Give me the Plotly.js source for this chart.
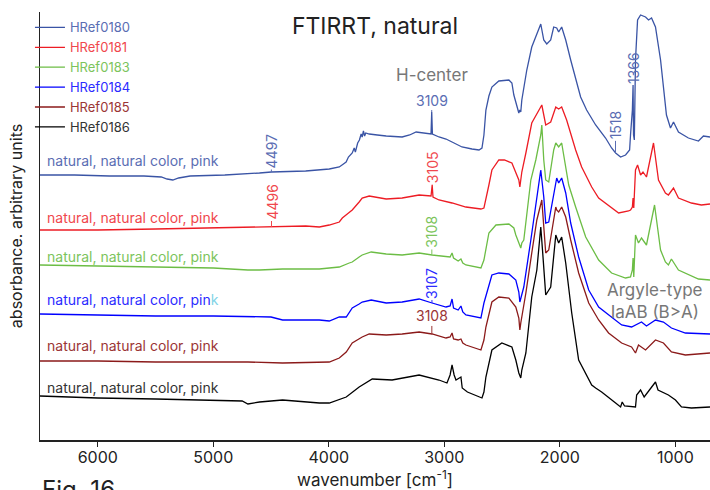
<!DOCTYPE html>
<html>
<head>
<meta charset="utf-8">
<script src="https://cdn.plot.ly/plotly-3.0.1.min.js"></script>
<style>html,body{margin:0;padding:0;background:#fff;}#chart{width:710px;height:490px;}</style>
</head>
<body>
<div id="chart"></div>
<script>
// ---- data (wavenumber in cm-1, absorbance in arbitrary units, stacked) ----
const seriesNames = ["HRef0180","HRef0181","HRef0183","HRef0184","HRef0185","HRef0186"];
const sampleLabel = "natural, natural color, pink";

const wn180 = [6500,6200,5900,5600,5450,5400,5350,5300,5200,4900,4600,4497,4200,4082,3996,3909,3870,3850,3830,3797,3780,3770,3750,3735,3720,3711,3700,3690,3680,3650,3580,3503,3365,3300,3244,3158,3115,3109,3103,3046,2985,2933,2847,2760,2700,2674,2657,2640,2614,2588,2528,2441,2415,2398,2372,2355,2346,2338,2329,2286,2243,2199,2165,2139,2113,2079,2053,2027,2010,1984,1949,1906,1854,1820,1768,1690,1604,1552,1517,1474,1431,1396,1388,1372,1366,1362,1355,1345,1327,1301,1258,1232,1206,1172,1128,1103,1077,1042,1016,973,887,800,757,700];
const ab180 = [265,265,264,264,263,261,260,262,264,265,267,268,269,270,271,273,276,278,283,287,292,288,297,300,306,303,309,304,307,306,305,304,303,305,308,307,306,328,306,303,301,298,293,291,290,292,305,330,344,353,359,360,357,345,335,327,330,328,340,370,393,405,416,400,396,400,413,412,408,413,400,380,358,343,330,315,302,292,287,283,285,290,305,330,355,305,300,380,420,425,423,420,422,413,380,350,325,312,318,308,302,299,304,303];

const wn181 = [6500,6000,5500,5000,4496,4200,4082,3996,3909,3883,3840,3797,3737,3711,3650,3503,3365,3218,3115,3105,3098,3046,2933,2900,2813,2683,2657,2614,2588,2528,2480,2415,2381,2355,2346,2338,2329,2294,2243,2156,2122,2079,2035,2010,1984,1941,1863,1811,1724,1664,1604,1552,1491,1405,1388,1372,1366,1360,1345,1327,1301,1280,1250,1189,1146,1086,1060,1016,973,861,775,700];
const ab181 = [210,210,211,212,213,214,213,215,218,222,226,230,238,242,244,241,242,245,244,255,243,240,237,236,233,231,232,255,270,280,280,277,268,260,253,262,268,287,317,335,315,318,333,331,333,320,290,273,253,242,237,232,227,229,230,233,242,232,270,275,265,268,263,297,260,247,245,252,242,237,235,236];

const wn183 = [6500,6000,5500,5000,4700,4600,4400,4082,3996,3909,3823,3797,3737,3711,3633,3503,3365,3218,3106,2985,2950,2933,2920,2880,2856,2840,2813,2683,2657,2614,2553,2441,2398,2381,2355,2338,2329,2312,2251,2208,2165,2156,2139,2122,2096,2053,2035,2010,1984,1949,1923,1863,1776,1664,1552,1431,1388,1372,1366,1360,1345,1319,1293,1250,1180,1128,1086,1060,1034,973,800,700];
const ab183 = [175,174,173,172,170,170,171,171,172,173,177,178,183,185,188,186,185,187,185,183,183,187,182,179,181,177,175,172,180,207,215,216,212,205,196,192,197,200,260,280,305,315,280,260,258,290,297,293,297,275,255,233,203,180,167,162,163,170,182,163,205,197,202,195,235,190,178,175,181,170,161,160];

const wn184 = [6500,6000,5500,5000,4500,4400,4300,4082,3996,3909,3849,3797,3737,3711,3633,3503,3365,3218,3106,2985,2950,2933,2920,2880,2856,2840,2813,2683,2657,2588,2528,2441,2381,2355,2346,2338,2312,2251,2208,2165,2139,2122,2096,2035,2027,2010,1984,1949,1906,1837,1750,1664,1578,1465,1379,1293,1250,1172,1103,1034,913,700];
const ab184 = [126,125,124,124,123,120,120,120,119,123,123,132,136,138,140,137,138,141,137,133,134,141,132,130,134,128,125,122,137,165,167,166,160,148,138,142,153,200,233,270,243,217,218,255,262,257,262,247,217,183,150,133,125,115,113,118,114,120,118,112,107,106];

const wn185 = [6500,6000,5500,5000,4700,4400,4082,3996,3909,3849,3797,3711,3650,3503,3365,3218,3106,2985,2950,2933,2920,2880,2856,2840,2813,2683,2657,2640,2588,2528,2441,2381,2355,2346,2338,2294,2243,2199,2156,2139,2122,2096,2035,2027,2010,1984,1949,1906,1837,1750,1664,1578,1465,1379,1345,1319,1258,1172,1128,1103,1034,913,700];
const ab185 = [79,79,78,78,78,77,78,78,82,88,97,103,106,105,106,108,106,102,103,107,101,100,101,97,95,90,100,113,138,143,142,133,122,110,117,147,187,220,240,210,187,190,233,230,228,233,223,200,167,137,120,107,97,93,87,95,90,100,98,97,88,85,87];

const wn186 = [6500,6000,5500,5000,4750,4700,4600,4400,4082,3996,3849,3737,3624,3452,3218,3046,2977,2950,2933,2915,2899,2870,2856,2845,2800,2674,2657,2640,2588,2502,2415,2381,2355,2338,2329,2294,2243,2199,2165,2150,2122,2079,2035,2010,1984,1949,1897,1837,1776,1750,1724,1690,1638,1517,1474,1460,1440,1345,1335,1301,1270,1172,1150,1060,999,947,861,700];
const ab186 = [44,42,41,40,39,36,38,40,37,37,43,53,61,60,65,60,57,65,75,65,60,62,63,52,48,42,48,63,90,97,93,80,67,62,70,87,143,170,213,190,145,153,205,197,203,177,127,80,67,61,55,52,48,37,33,38,34,33,45,50,43,58,50,45,40,33,32,33];

// peak labels
const peakSeries = [0,0,0,0,1,1,2,3,4];
const peakWn     = [4497,3109,1518,1366,4496,3105,3108,3107,3108];
const peakText   = ["4497","3109","1518","1366","4496","3105","3108","3107","3108"];

// ---- style ----
const lineColors = ["#3a54a5","#ed1c24","#6cbd45","#0000ff","#8b1a1a","#000000"];
const textColors = ["#5a6db3","#f0474d","#7cc45c","#2b2bff","#9b3535","#333333"];
const FONT = "Inter, Lato, sans-serif";

const WN = [wn180,wn181,wn183,wn184,wn185,wn186];
const AB = [ab180,ab181,ab183,ab184,ab185,ab186];

function valAt(wn, ab, w){
  for(let i=0;i<wn.length-1;i++){
    if((wn[i]-w)*(wn[i+1]-w)<=0){
      const t=(w-wn[i])/(wn[i+1]-wn[i]);
      return ab[i]+t*(ab[i+1]-ab[i]);
    }
  }
  return ab[ab.length-1];
}

const traces = seriesNames.map((n,i)=>({
  x: WN[i], y: AB[i], type:'scatter', mode:'lines',
  name: '<span style="color:'+textColors[i]+'">'+n+'</span>',
  line:{color:lineColors[i], width:1.3}
}));

const annotations = [];
// sample labels above each trace
const labelLift = [15,13,9,15,16,9];
seriesNames.forEach((n,i)=>{
  let txt = sampleLabel;
  if(i===3) txt = '<span style="color:#2b2bff">natural, natural color, pin</span><span style="color:#7fd3e6">k</span>';
  annotations.push({x:6455, y:AB[i][0]+labelLift[i], xref:'x', yref:'y', text:txt, showarrow:false,
    xanchor:'left', yanchor:'middle', font:{family:FONT, size:14, color:textColors[i]}});
});
// peak labels
const peakAngle = [-90,0,-90,-90,-90,-90,-90,-90,0];
const peakAy    = [-21,-12,-28,-17,-25,-18,-23,-20,-18];
peakWn.forEach((w,k)=>{
  const s = peakSeries[k];
  annotations.push({x:w, y:valAt(WN[s],AB[s],w), xref:'x', yref:'y', text:peakText[k],
    showarrow:true, arrowhead:0, arrowwidth:1, arrowcolor:textColors[s], ax:0, ay:peakAy[k],
    textangle:peakAngle[k], font:{family:FONT, size:14, color:textColors[s]}});
});
// text notes
annotations.push({x:0.585, y:(440-75)/428, xref:'paper', yref:'paper', xanchor:'center', yanchor:'middle',
  text:'H-center', showarrow:false, font:{family:FONT, size:17, color:'#777'}});
annotations.push({x:0.918, y:(440-301)/428, xref:'paper', yref:'paper', xanchor:'center', yanchor:'middle',
  text:'Argyle-type<br>IaAB (B&gt;A)', showarrow:false, align:'center', font:{family:FONT, size:17, color:'#777'}});
annotations.push({x:0, y:-0.077, xref:'paper', yref:'paper', text:'Fig. 16', showarrow:false,
  xanchor:'left', yanchor:'top', font:{family:FONT, size:24, color:'#222'}});

const layout = {
  width:710, height:490,
  margin:{l:40, r:0, t:12, b:50},
  paper_bgcolor:'#fff', plot_bgcolor:'#fff',
  font:{family:FONT, color:'#222'},
  title:{text:'FTIRRT, natural', x:0.5, xref:'paper', y:1-26/490, yref:'container', yanchor:'middle',
    font:{family:FONT, size:23, color:'#222'}},
  showlegend:true,
  legend:{x:-0.015, y:0.999, xanchor:'left', yanchor:'top', bgcolor:'rgba(0,0,0,0)',
    font:{family:FONT, size:13}, tracegroupgap:0, itemwidth:30},
  xaxis:{range:[6500,700], showgrid:false, zeroline:false, showline:true, linecolor:'#222', linewidth:1.5,
    ticks:'outside', ticklen:5, tickcolor:'#222', tickvals:[6000,5000,4000,3000,2000,1000],
    ticklabelstandoff:-3,
    tickfont:{family:FONT, size:16, color:'#222'},
    title:{text:'wavenumber [cm<sup>-1</sup>]', font:{family:FONT, size:17, color:'#222'}, standoff:8}},
  yaxis:{range:[0,428], showgrid:false, zeroline:false, showline:true, linecolor:'#222', linewidth:1.5,
    showticklabels:false, ticks:'',
    title:{text:'absorbance. arbitrary units', font:{family:FONT, size:16, color:'#222'}, standoff:12}},
  annotations: annotations
};

Plotly.newPlot('chart', traces, layout, {displayModeBar:false, staticPlot:true});
</script>
</body>
</html>
